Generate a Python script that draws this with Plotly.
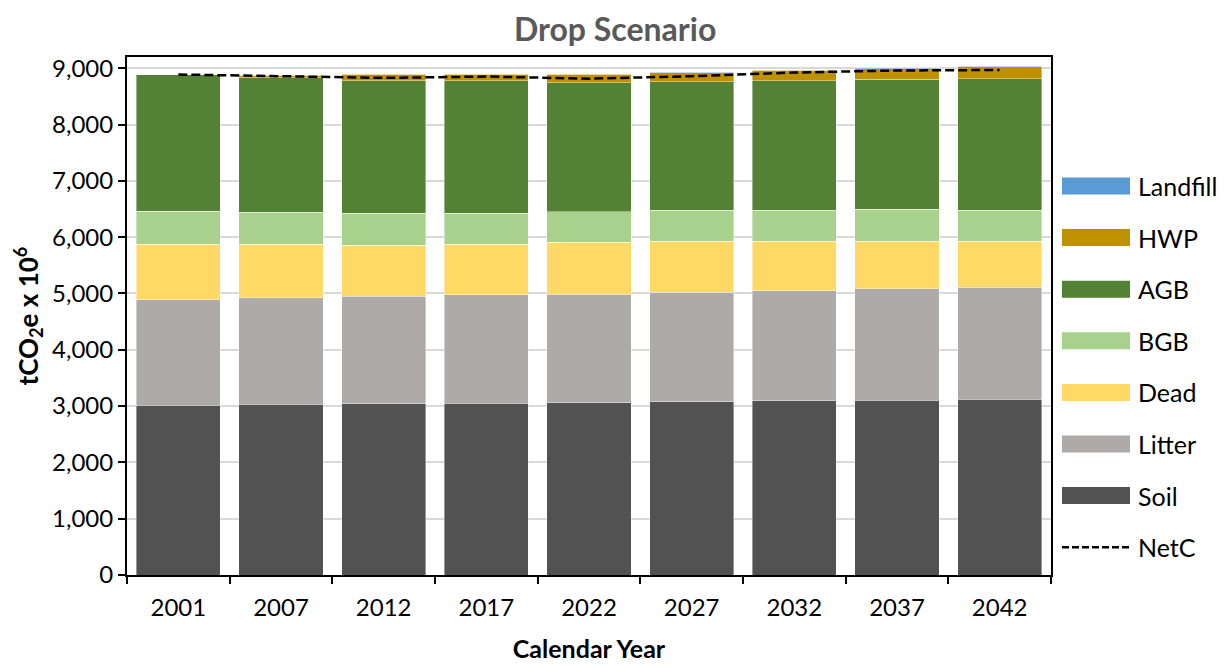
import plotly.graph_objects as go

years = ["2001", "2007", "2012", "2017", "2022", "2027", "2032", "2037", "2042"]
soil = [3018, 3030, 3041, 3053, 3059, 3077, 3095, 3107, 3119]
litter = [1870, 1893, 1906, 1923, 1924, 1941, 1953, 1976, 1988]
dead = [988, 953, 911, 900, 929, 911, 881, 846, 822]
bgb = [586, 568, 568, 550, 544, 545, 545, 563, 545]
agb = [2427, 2385, 2349, 2349, 2284, 2283, 2301, 2313, 2344]
hwp = [0, 47, 119, 119, 154, 167, 190, 190, 206]
landfill = [0, 3, 5, 6, 7, 8, 10, 12, 14]
netc = [8889, 8864, 8829, 8853, 8815, 8859, 8924, 8960, 8970]

FONT = "Lato"

series = [
    ("Soil", soil, "#525252"),
    ("Litter", litter, "#AEAAAA"),
    ("Dead", dead, "#FFD966"),
    ("BGB", bgb, "#A9D18E"),
    ("AGB", agb, "#548235"),
    ("HWP", hwp, "#BF9000"),
    ("Landfill", landfill, "#5B9BD5"),
]
NET_DASH = "9px,4px"

fig = go.Figure()
for name, vals, color in series:
    fig.add_trace(go.Bar(
        x=years, y=vals, name=name,
        marker=dict(color=color, line=dict(color="rgba(255,255,255,0.5)", width=0.8)),
    ))

fig.add_trace(go.Scatter(
    x=years, y=netc, name="NetC", mode="lines",
    line=dict(color="black", width=2.5, dash=NET_DASH),
))

# Plot area geometry (page pixels) used for a manual legend
PX0, PX1, PY0, PY1 = 127, 1051, 57, 575
def px(x):
    return (x - PX0) / (PX1 - PX0)
def py(y):
    return (PY1 - y) / (PY1 - PY0)

legend_items = [(n, c) for n, _, c in reversed(series)] + [("NetC", None)]
shapes = []
annotations = []
y_start, y_step = 186, 51.6
for i, (name, color) in enumerate(legend_items):
    yc = y_start + i * y_step
    if color is not None:
        shapes.append(dict(type="rect", xref="paper", yref="paper",
                           x0=px(1062), x1=px(1130), y0=py(yc + 8.5), y1=py(yc - 8.5),
                           fillcolor=color, line=dict(width=0)))
    else:
        shapes.append(dict(type="line", xref="paper", yref="paper",
                           x0=px(1062), x1=px(1130), y0=py(yc), y1=py(yc),
                           line=dict(color="black", width=2.5, dash="7px,3px")))
    annotations.append(dict(text=name, xref="paper", yref="paper", x=px(1136), y=py(yc),
                            xanchor="left", yanchor="middle", showarrow=False,
                            font=dict(size=25, family=FONT, color="black")))

fig.update_layout(
    width=1229, height=666,
    barmode="stack", bargap=0.18,
    plot_bgcolor="white", paper_bgcolor="white",
    margin=dict(l=119, r=186, t=49, b=99),
    font=dict(family=FONT, size=24, color="black"),
    title=dict(text="<b>Drop Scenario</b>", x=0.494, xref="container", xanchor="center",
               y=0.967, yref="container", yanchor="middle",
               font=dict(size=32, color="#595959", family=FONT)),
    showlegend=False,
    shapes=shapes,
    annotations=annotations,
)

fig.update_xaxes(
    type="category", automargin=False,
    showline=True, linecolor="black", linewidth=2, mirror=True,
    ticks="outside", tickson="boundaries", ticklen=7, tickwidth=2, tickcolor="black",
    ticklabelstandoff=10,
    title=dict(text="<b>Calendar Year</b>", font=dict(size=25), standoff=21),
    tickfont=dict(size=24),
)
fig.update_yaxes(
    range=[0, 9200], tickvals=[0, 1000, 2000, 3000, 4000, 5000, 6000, 7000, 8000, 9000],
    tickformat=",d", automargin=False,
    showline=True, linecolor="black", linewidth=2, mirror=True,
    ticks="outside", ticklen=7, tickwidth=2, tickcolor="black",
    showgrid=True, gridcolor="#D9D9D9", gridwidth=1.5,
    zeroline=False,
    title=dict(text="<b>tCO<sub>2</sub>e x 10<sup>6</sup></b>", font=dict(size=26), standoff=6),
    tickfont=dict(size=24),
)

fig.write_html("out.html")
